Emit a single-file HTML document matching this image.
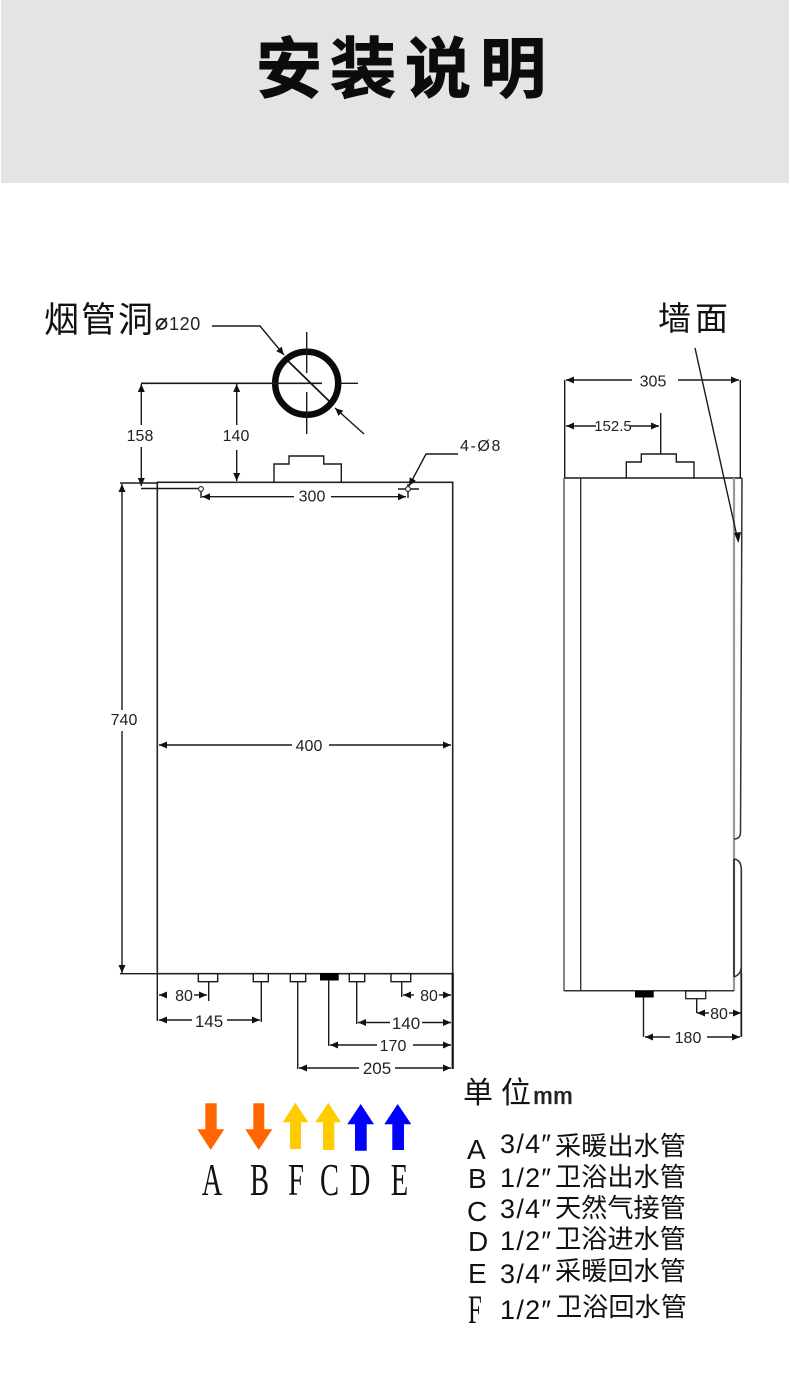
<!DOCTYPE html>
<html><head><meta charset="utf-8">
<style>
html,body{margin:0;padding:0;background:#fff}
svg{display:block}
.d{font:16px "Liberation Sans",sans-serif;fill:#222;text-anchor:middle}
.cjk{font-family:"Liberation Sans","Noto Sans CJK SC",sans-serif;fill:#111}
.n{font:28px "Liberation Sans",sans-serif;fill:#111}
.dg{font:27px "Liberation Sans",sans-serif;fill:#111;letter-spacing:1.3px}
.c{font:26.2px "Liberation Sans","Noto Sans CJK SC",sans-serif;fill:#111}
.s{font-family:"Liberation Serif",serif;fill:#111}
.l{fill:none;stroke:#1a1a1a;stroke-width:1.4}
.e{fill:none;stroke:#1a1a1a;stroke-width:1.4;marker-end:url(#a)}
</style></head>
<body>
<svg width="790" height="1385" viewBox="0 0 790 1385" xmlns="http://www.w3.org/2000/svg">
<defs>
<marker id="a" markerUnits="userSpaceOnUse" markerWidth="9" markerHeight="8" refX="8" refY="4" orient="auto-start-reverse"><path d="M0 0.5L8 4L0 7.5z" fill="#111"/></marker>
</defs>
<rect x="1" y="0" width="788" height="183" fill="#e4e4e4"/>
<g class="cjk" font-size="66" font-weight="700" style="fill:#0c0c0c;stroke:#0c0c0c;stroke-width:1">
<text x="256" y="92">安</text><text x="330" y="92">装</text><text x="405" y="92">说</text><text x="480" y="92">明</text>
</g>

<!-- flue labels -->
<g class="cjk" font-size="35"><text x="44" y="332">烟</text><text x="81" y="332">管</text><text x="118" y="332">洞</text></g>
<g fill="none" stroke="#222" stroke-width="1.8"><circle cx="161.500" cy="324" r="5"/><path d="M156.500 330L166.500 318"/></g>
<text x="169" y="330" font-family="Liberation Sans" font-size="18" fill="#222" letter-spacing=".6">120</text>
<g class="cjk" font-size="33"><text x="658" y="330">墙</text><text x="695" y="330">面</text></g>

<!-- flue circle -->
<circle cx="306.700" cy="383.300" r="31.500" fill="none" stroke="#0a0a0a" stroke-width="6.500"/>
<path class="l" d="M306.700 332V373M306.700 392V434M340 383.300H358"/>
<path class="l" d="M141 383.300H322" style="stroke-width:1.6"/>
<path d="M288 361L329 401" stroke="#111" stroke-width="1.7"/>
<path class="e" d="M212 326H260L284 355"/>
<path class="e" d="M364 434L335 408"/>

<!-- main body -->
<rect x="157.300" y="482.300" width="295.400" height="491.400" fill="none" stroke="#222" stroke-width="1.600"/>
<path d="M274 482V464H289V456H323.700V464H341.300V482" fill="none" stroke="#1a1a1a" stroke-width="1.400"/>
<path class="e" d="M141.300 425V384"/><path class="e" d="M141.300 447V486"/>
<path class="e" d="M236.700 425V384"/><path class="e" d="M236.700 450V481"/>
<text class="d" x="140" y="441">158</text><text class="d" x="236" y="441">140</text>
<path class="l" d="M141 488.500H198M120 483H157M120 973.700H157"/>
<circle cx="201" cy="489" r="2.400" fill="#fff" stroke="#222" stroke-width="1.100"/>
<path class="l" d="M201 491.500V498M398 489H419M408 484V498"/>
<circle cx="408" cy="489" r="2.400" fill="#fff" stroke="#222" stroke-width="1.100"/>
<path class="e" d="M294 496.700H202"/><path class="e" d="M331 496.700H406"/>
<text class="d" x="312" y="501.500">300</text>
<path class="e" d="M458 454H426L409 486"/>
<text x="460" y="451" font-family="Liberation Sans" font-size="16" fill="#222" letter-spacing="1.600">4-Ø8</text>
<path class="e" d="M122 710V484"/><path class="e" d="M122 731V973"/>
<text class="d" x="124" y="725">740</text>
<path class="e" d="M292 745H159"/><path class="e" d="M329 745H451"/>
<text class="d" x="309" y="751">400</text>

<!-- bottom fittings -->
<g fill="#fff" stroke="#1a1a1a" stroke-width="1.400">
<rect x="198.300" y="973.700" width="19.400" height="8"/><rect x="253.300" y="973.700" width="15" height="8"/>
<rect x="290.300" y="973.700" width="15.400" height="8"/><rect x="349.300" y="973.700" width="15.400" height="8"/>
<rect x="391" y="973.700" width="19.700" height="8"/>
</g>
<rect x="320" y="973" width="18.700" height="7.500" fill="#000"/>
<path class="l" d="M208.700 982V1001M261.300 982V1022M297.700 982V1069M328.700 980V1046M356.700 982V1024M401.700 982V997M157.300 974V1021"/>
<path d="M452.700 973V1069" stroke="#111" stroke-width="2.200"/>
<path class="e" d="M167 995H159"/><path class="e" d="M194 995H207"/><text class="d" x="184" y="1001">80</text>
<path class="e" d="M192 1020H159"/><path class="e" d="M227 1020H260"/><text class="d" x="209" y="1027" style="font-size:17px">145</text>
<path class="e" d="M414 995H403"/><path class="e" d="M439 995H451"/><text class="d" x="429" y="1001">80</text>
<path class="e" d="M390 1022.500H358"/><path class="e" d="M422 1022.500H451"/><text class="d" x="406" y="1029" style="font-size:17px">140</text>
<path class="e" d="M377 1045H330"/><path class="e" d="M413 1045H451"/><text class="d" x="393" y="1051">170</text>
<path class="e" d="M359 1068H299"/><path class="e" d="M395 1068H451"/><text class="d" x="377" y="1074" style="font-size:17px">205</text>

<!-- side view -->
<path class="l" d="M564.700 380V478M740.300 380V478"/>
<path class="e" d="M632 380H566"/><path class="e" d="M678 380H739"/><text class="d" x="653" y="386.500">305</text>
<path class="l" d="M660.700 413V454"/>
<path class="e" d="M596 426H566"/><path class="e" d="M630 426H659"/><text class="d" x="613" y="431" style="font-size:15px">152.5</text>
<path d="M626.300 478V462H641.300V454H676.300V462H694V478" fill="none" stroke="#1a1a1a" stroke-width="1.400"/>
<path d="M564 478H742" stroke="#1a1a1a" stroke-width="1.500"/>
<path d="M564 478V991" stroke="#777" stroke-width="1.800"/>
<path d="M580.700 478V991" stroke="#333" stroke-width="1.400"/>
<path d="M734 478V991" stroke="#999" stroke-width="2.200"/>
<path d="M564 990.700H734" stroke="#333" stroke-width="1.500"/>
<path d="M742 478L740.500 832Q740.500 839 734 839" fill="none" stroke="#333" stroke-width="1.500"/>
<path d="M734 859Q741 860 741.300 869V973" fill="none" stroke="#333" stroke-width="1.600"/>
<path d="M734 859V977" stroke="#222" stroke-width="1.500"/>
<path d="M741 968Q741 974 734 977" fill="none" stroke="#333" stroke-width="1.500"/>
<path d="M741.300 973V1037" stroke="#222" stroke-width="1.800"/>
<path d="M695 348L738 541" stroke="#1a1a1a" stroke-width="1.400"/>
<path d="M734 533L741 532L738.500 543z" fill="#111"/>
<rect x="635" y="991" width="18.700" height="6.500" fill="#000"/>
<rect x="685.700" y="991" width="20" height="7.700" fill="#fff" stroke="#222" stroke-width="1.300"/>
<path class="l" d="M696.700 999V1013M643.500 997V1037"/>
<path class="e" d="M709 1013H697"/><path class="e" d="M729 1013H741"/><text class="d" x="719" y="1019">80</text>
<path class="e" d="M670 1037H645"/><path class="e" d="M707 1037H740"/><text class="d" x="688" y="1043">180</text>

<!-- flow arrows -->
<path fill="#ff6600" d="M205.300 1103.300H216.700V1129.300H224.300L210.700 1150L197.300 1129.300H205.300z"/>
<path fill="#ff6600" d="M253.300 1103.300H264.300V1129.300H272.300L258.700 1150L245.300 1129.300H253.300z"/>
<path fill="#ffcc00" d="M295.300 1102.700L308.300 1122.300H301V1149H290V1122.300H282.700z"/>
<path fill="#ffcc00" d="M328.300 1102.700L341 1122.300H334.300V1150H323V1122.300H315.300z"/>
<path fill="#0000ff" d="M360.700 1104L374 1124.300H366.700V1150.700H355V1124.300H347.300z"/>
<path fill="#0000ff" d="M397.700 1104L411.300 1124.300H404V1150H392.300V1124.300H384.300z"/>
<g class="s" font-size="46" text-anchor="middle">
<text transform="translate(212 1195) scale(.62 1)">A</text>
<text transform="translate(259.500 1195) scale(.62 1)">B</text>
<text transform="translate(296 1195) scale(.62 1)">F</text>
<text transform="translate(329.500 1195) scale(.62 1)">C</text>
<text transform="translate(360 1195) scale(.62 1)">D</text>
<text transform="translate(399.500 1195) scale(.62 1)">E</text>
</g>

<!-- legend -->
<g class="cjk" font-size="30"><text x="463" y="1103">单</text><text x="501" y="1103">位</text></g>
<text x="533" y="1104" font-family="Liberation Mono" font-size="24" fill="#222" stroke="#222" stroke-width=".2" textLength="40" lengthAdjust="spacingAndGlyphs">mm</text>

<text class="n" x="467" y="1159">A</text><text class="n" x="468" y="1188">B</text>
<text class="n" x="467" y="1221">C</text><text class="n" x="468" y="1251">D</text>
<text class="n" x="468" y="1283">E</text>
<text class="s" font-size="40" transform="translate(468 1323) scale(.62 1)">F</text>

<text class="dg" x="500" y="1153">3/4″</text><text class="c" x="555" y="1155">采暖出水管</text>
<text class="dg" x="500" y="1187">1/2″</text><text class="c" x="555" y="1186">卫浴出水管</text>
<text class="dg" x="500" y="1218">3/4″</text><text class="c" x="555" y="1217">天然气接管</text>
<text class="dg" x="500" y="1250">1/2″</text><text class="c" x="555" y="1248">卫浴进水管</text>
<text class="dg" x="500" y="1283">3/4″</text><text class="c" x="555" y="1280">采暖回水管</text>
<text class="dg" x="500" y="1319">1/2″</text><text class="c" x="556" y="1316">卫浴回水管</text>
</svg>
</body></html>
